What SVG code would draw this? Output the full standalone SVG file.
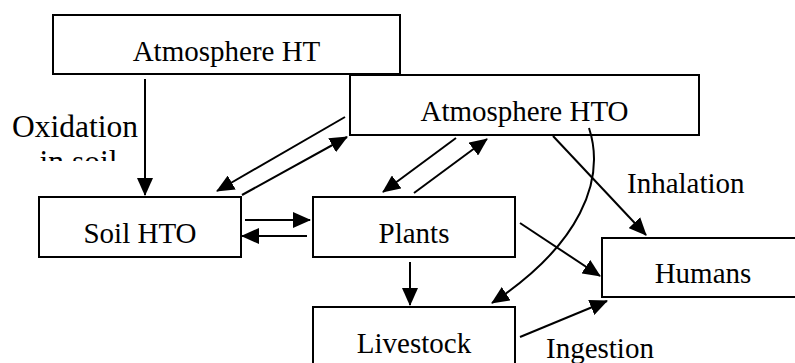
<svg xmlns="http://www.w3.org/2000/svg" width="795" height="363" viewBox="0 0 795 363">
<style>
.box{fill:#fff;stroke:#000;stroke-width:2}
.c{text-anchor:middle}
.ln{fill:none;stroke:#000;stroke-width:2;marker-end:url(#ah)}
</style>
<defs>
<marker id="ah" viewBox="0 0 18 16" refX="17" refY="8" markerWidth="18" markerHeight="16" markerUnits="userSpaceOnUse" orient="auto">
<path d="M0,0 L18,8 L0,16 z" fill="#000"/>
</marker>
<clipPath id="clipOx"><rect x="0" y="100" width="145" height="61"/></clipPath>
</defs>
<rect width="795" height="363" fill="#fff"/>
<g font-family="Liberation Serif, Times New Roman, Tinos, Noto Serif, DejaVu Serif, serif" font-size="29" fill="#000">
<g id="atm-ht"><rect class="box" x="53" y="15" width="347" height="59"/><text class="c" x="226.5" y="61">Atmosphere HT</text></g>
<g id="atm-hto"><rect class="box" x="350" y="75" width="349" height="60"/><text class="c" x="524.5" y="121">Atmosphere HTO</text></g>
<g id="soil-hto"><rect class="box" x="39" y="197" width="202" height="60"/><text class="c" x="140" y="243">Soil HTO</text></g>
<g id="plants"><rect class="box" x="313" y="197" width="202" height="60"/><text class="c" x="414" y="243">Plants</text></g>
<g id="livestock"><rect class="box" x="313" y="307" width="202" height="70"/><text class="c" x="414" y="353">Livestock</text></g>
<g id="humans"><rect class="box" x="602" y="238" width="210" height="59"/><text class="c" x="703" y="283">Humans</text></g>
<g id="connectors">
<line class="ln" x1="145" y1="79" x2="145" y2="195"/>
<line class="ln" x1="345" y1="117" x2="217" y2="191"/>
<line class="ln" x1="242" y1="195" x2="347" y2="137"/>
<line class="ln" x1="456" y1="138" x2="383" y2="192"/>
<line class="ln" x1="414" y1="193" x2="487" y2="139"/>
<line class="ln" x1="245" y1="220" x2="310" y2="220"/>
<line class="ln" x1="307" y1="236" x2="242" y2="236"/>
<line class="ln" x1="553" y1="136" x2="646" y2="235"/>
<line class="ln" x1="520" y1="223" x2="600" y2="276"/>
<path class="ln" d="M589,128 C606,180 580,245 492,303"/>
<line class="ln" x1="410" y1="262" x2="410" y2="305"/>
<line class="ln" x1="520" y1="337" x2="607" y2="301"/>
</g>
<g id="labels">
<g clip-path="url(#clipOx)">
<text class="c" x="75" y="137" font-size="31.5">Oxidation</text>
<text class="c" x="78.5" y="172" font-size="31.5">in soil</text>
</g>
<text x="627" y="193">Inhalation</text>
<text x="546" y="358">Ingestion</text>
</g>
</g>
</svg>
